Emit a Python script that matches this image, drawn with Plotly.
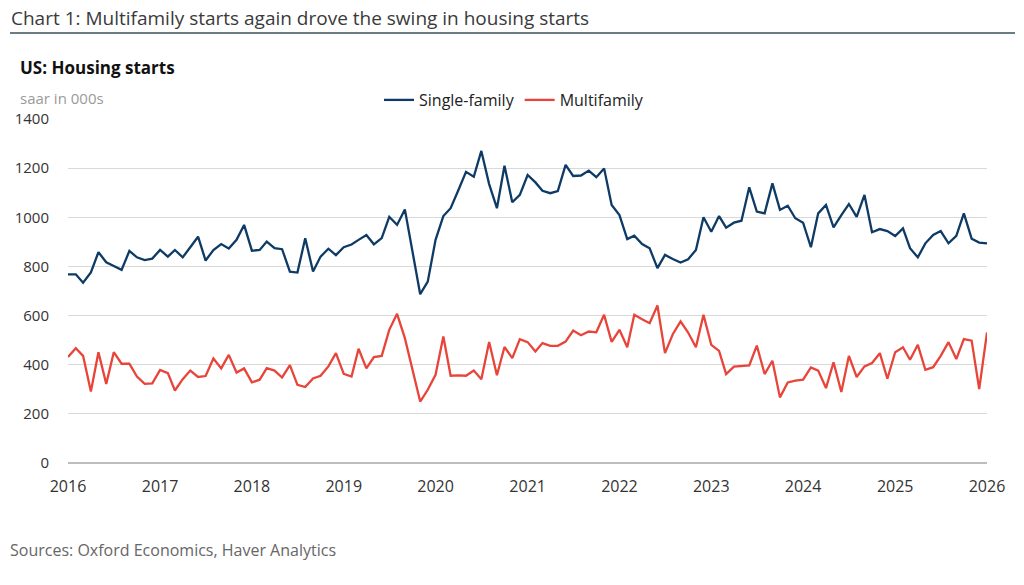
import pandas as pd
import plotly.graph_objects as go

dates = pd.date_range("2016-01-01", periods=121, freq="MS")

single_family = [
    768, 768, 734, 776, 858, 817, 802, 786, 863, 837, 826, 832,
    867, 840, 867, 837, 878, 921, 824, 867, 891, 873, 908, 969,
    864, 867, 901, 874, 870, 779, 775, 915, 779, 840, 872, 846,
    878, 889, 908, 928, 890, 915, 1002, 969, 1032, 867, 687, 738,
    908, 1005, 1037, 1111, 1185, 1165, 1270, 1135, 1037, 1210, 1061, 1091,
    1172, 1142, 1108, 1098, 1107, 1213, 1168, 1170, 1190, 1163, 1199, 1050,
    1009, 911, 925, 891, 874, 793, 847, 830, 816, 829, 867, 1000,
    941, 1005, 958, 978, 986, 1122, 1023, 1016, 1138, 1030, 1047, 996,
    978, 878, 1016, 1050, 959, 1009, 1054, 1002, 1091, 939, 952, 944,
    924, 955, 874, 837, 894, 928, 944, 894, 924, 1016, 913, 897,
    894,
]

multifamily = [
    431, 467, 436, 291, 451, 322, 451, 404, 404, 352, 322, 324,
    379, 366, 295, 341, 376, 350, 354, 425, 385, 440, 368, 385,
    328, 339, 386, 376, 348, 398, 318, 309, 344, 355, 393, 447,
    363, 352, 465, 385, 431, 436, 542, 607, 508, 379, 250, 298,
    359, 515, 355, 357, 355, 376, 341, 492, 357, 472, 427, 504,
    492, 454, 488, 477, 477, 494, 539, 520, 535, 532, 603, 493,
    542, 471, 603, 585, 569, 641, 447, 524, 576, 531, 471, 603,
    481, 456, 362, 392, 393, 397, 478, 362, 416, 267, 328, 335,
    339, 389, 376, 305, 410, 289, 436, 350, 393, 407, 447, 343,
    451, 471, 420, 481, 379, 390, 436, 492, 423, 504, 498, 301,
    531,
]

year_ticks = [f"{y}-01-01" for y in range(2016, 2027)]
year_labels = [str(y) for y in range(2016, 2027)]
y_ticks = [0, 200, 400, 600, 800, 1000, 1200, 1400]

FONT = "Open Sans"
L, R, T, B = 68, 987, 119, 463
W, H = R - L, B - T


def px(x):
    return (x - L) / W


def py(y):
    return (B - y) / H


fig = go.Figure()
fig.add_trace(go.Scatter(x=dates, y=single_family, mode="lines", name="Single-family",
                         line=dict(color="#0d3b66", width=2.3)))
fig.add_trace(go.Scatter(x=dates, y=multifamily, mode="lines", name="Multifamily",
                         line=dict(color="#e8443a", width=2.3)))

fig.update_layout(
    width=1024, height=585,
    margin=dict(l=L, r=1024 - R, t=T, b=585 - B),
    paper_bgcolor="white", plot_bgcolor="white",
    font=dict(family=FONT, color="#333333", size=16),
    showlegend=True,
    legend=dict(orientation="h", x=px(514), xanchor="center", y=py(100), yanchor="middle",
                font=dict(size=16, color="#222222"), itemwidth=30, tracegroupgap=0,
                bgcolor="rgba(0,0,0,0)"),
    xaxis=dict(
        range=[dates[0], dates[-1]], tickvals=year_ticks, ticktext=year_labels,
        showgrid=False, zeroline=False, showline=False, ticks="",
        tickfont=dict(size=16, color="#333333"), ticklabelstandoff=12,
    ),
    yaxis=dict(
        range=[0, 1400], tickvals=y_ticks, showgrid=True, gridcolor="#d9d9d9", gridwidth=1.3,
        zeroline=True, zerolinecolor="#bdbdbd", zerolinewidth=1.5,
        showline=False, ticks="", tickfont=dict(size=15, color="#333333"), ticklabelstandoff=18,
    ),
)

fig.add_shape(type="line", xref="paper", yref="paper", x0=px(10), x1=px(1015), y0=py(33), y1=py(33),
              line=dict(color="#3d4f5c", width=1.5))

fig.add_annotation(xref="paper", yref="paper", x=px(9), y=py(18), xanchor="left", yanchor="middle",
                   text="Chart 1: Multifamily starts again drove the swing in housing starts",
                   showarrow=False, font=dict(family=FONT, size=19, color="#3a3a3a"))
fig.add_annotation(xref="paper", yref="paper", x=px(18), y=py(68), xanchor="left", yanchor="middle",
                   text="<b>US: Housing starts</b>",
                   showarrow=False, font=dict(family=FONT, size=17, color="#111111"))
fig.add_annotation(xref="paper", yref="paper", x=px(18), y=py(98), xanchor="left", yanchor="middle",
                   text="saar in 000s",
                   showarrow=False, font=dict(family=FONT, size=15, color="#9a9a9a"))
fig.add_annotation(xref="paper", yref="paper", x=px(8), y=py(550), xanchor="left", yanchor="middle",
                   text="Sources: Oxford Economics, Haver Analytics",
                   showarrow=False, font=dict(family=FONT, size=16, color="#666666"))

fig.write_html("out.html")
